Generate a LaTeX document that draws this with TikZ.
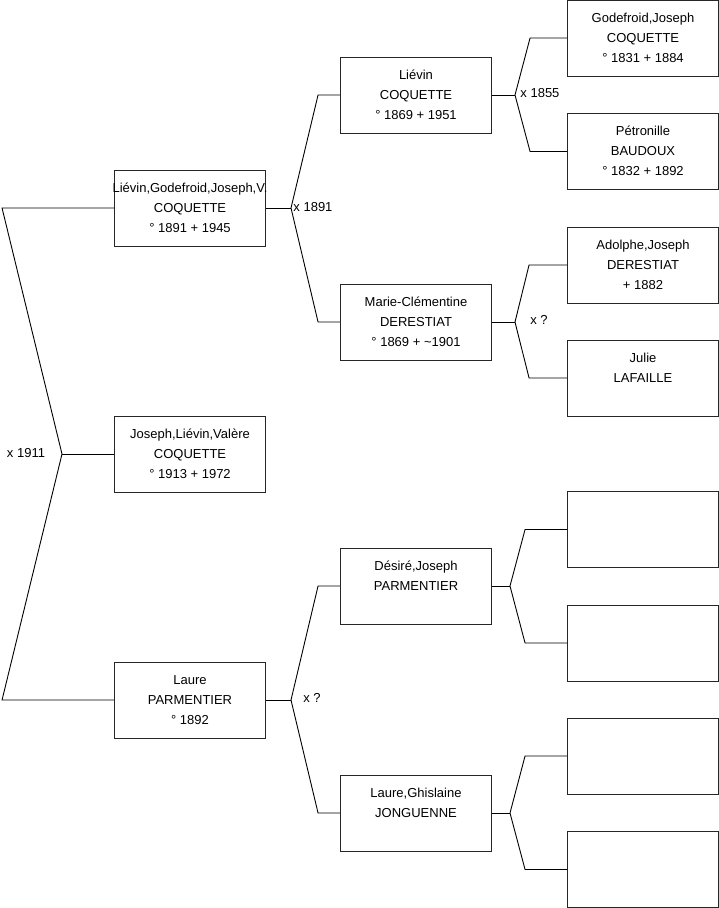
\documentclass[tikz,border=0pt]{standalone}
\usepackage{fontspec}
\setmainfont{Liberation Sans}
\newcommand{\lignes}[3]{\strut#1\\#2\\#3\strut}

\begin{document}
\begin{tikzpicture}[x=1pt,y=-1pt,line width=0.9pt]
  \tikzstyle{pers}=[draw=black!85,fill=white,minimum width=151pt,minimum height=76pt,inner sep=0pt,align=center,font=\fontsize{13}{20}\selectfont]
  \tikzstyle{lbl}=[font=\fontsize{13}{20}\selectfont,inner sep=0pt]
  \useasboundingbox (0,0) rectangle (719,908);
  % generation 1 et 2
  \node[pers] (pere) at (190,208) {\lignes{\makebox[0pt]{Liévin,Godefroid,Joseph,V.}}{COQUETTE}{° 1891 + 1945}};
  \node[pers] (ego) at (190,454) {\lignes{Joseph,Liévin,Valère}{COQUETTE}{° 1913 + 1972}};
  \node[pers] (mere) at (190,700) {\lignes{Laure}{PARMENTIER}{° 1892}};
  % grands-parents
  \node[pers] (gpp) at (416,95) {\lignes{Liévin}{COQUETTE}{° 1869 + 1951}};
  \node[pers] (gmp) at (416,322) {\lignes{Marie-Clémentine}{DERESTIAT}{° 1869 + \textasciitilde1901}};
  \node[pers] (gpm) at (416,586) {\lignes{Désiré,Joseph}{PARMENTIER}{}};
  \node[pers] (gmm) at (416,813) {\lignes{Laure,Ghislaine}{JONGUENNE}{}};
  % arrière-grands-parents
  \node[pers] (agp1) at (643,38) {\lignes{Godefroid,Joseph}{COQUETTE}{° 1831 + 1884}};
  \node[pers] (agm1) at (643,151.5) {\lignes{Pétronille}{BAUDOUX}{° 1832 + 1892}};
  \node[pers] (agp2) at (643,265) {\lignes{Adolphe,Joseph}{DERESTIAT}{+ 1882}};
  \node[pers] (agm2) at (643,378) {\lignes{Julie}{LAFAILLE}{}};
  \node[pers] (agp3) at (643,529.5) {};
  \node[pers] (agm3) at (643,643) {};
  \node[pers] (agp4) at (643,756) {};
  \node[pers] (agm4) at (643,869.5) {};
  % mariages
  \coordinate (j0) at (62,454);
  \coordinate (j1) at (291,208);
  \coordinate (j2) at (291,700);
  \coordinate (j3) at (515,95);
  \coordinate (j4) at (515,322);
  \coordinate (j5) at (510,586);
  \coordinate (j6) at (510,813);
  \node[lbl] (x0) at (26,453) {x 1911};
  \node[lbl,anchor=west] (x1) at (293,207) {x 1891};
  \node[lbl] (x2) at (312,698) {x ?};
  \node[lbl,anchor=west] (x3) at (520,93) {x 1855};
  \node[lbl] (x4) at (539,320) {x ?};
  \draw (pere.west) -- ([xshift=-112]pere.west) -- (j0) -- ([xshift=-112]mere.west) -- (mere.west);
  \draw (ego.west) -- (j0);
  \draw (gpp.west) -- ([xshift=-22]gpp.west) -- (j1) -- ([xshift=-22]gmp.west) -- (gmp.west);
  \draw (pere.east) -- (j1);
  \draw (gpm.west) -- ([xshift=-22]gpm.west) -- (j2) -- ([xshift=-22]gmm.west) -- (gmm.west);
  \draw (mere.east) -- (j2);
  \draw (agp1.west) -- ([xshift=-37]agp1.west) -- (j3) -- ([xshift=-37]agm1.west) -- (agm1.west);
  \draw (gpp.east) -- (j3);
  \draw (agp2.west) -- ([xshift=-38]agp2.west) -- (j4) -- ([xshift=-38]agm2.west) -- (agm2.west);
  \draw (gmp.east) -- (j4);
  \draw (agp3.west) -- ([xshift=-42]agp3.west) -- (j5) -- ([xshift=-42]agm3.west) -- (agm3.west);
  \draw (gpm.east) -- (j5);
  \draw (agp4.west) -- ([xshift=-42]agp4.west) -- (j6) -- ([xshift=-42]agm4.west) -- (agm4.west);
  \draw (gmm.east) -- (j6);
\end{tikzpicture}
\end{document}
